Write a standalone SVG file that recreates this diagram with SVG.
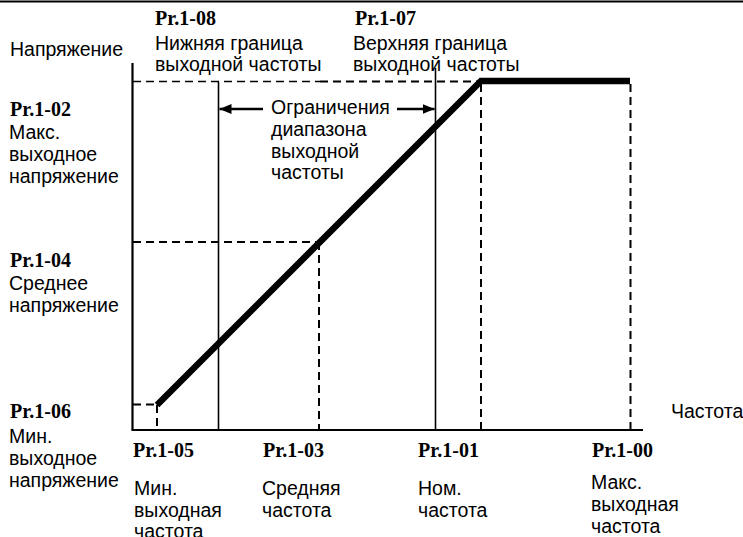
<svg xmlns="http://www.w3.org/2000/svg" width="743" height="537" viewBox="0 0 743 537">
<defs>
<style>
.t{font-family:"Liberation Sans",Arial,sans-serif;font-size:19.5px;fill:#000}
.p{font-family:"Liberation Serif","Times New Roman",serif;font-size:20px;font-weight:bold;fill:#000}
.ax{stroke:#000;stroke-width:2.2;fill:none}
.sl{stroke:#000;stroke-width:1.6;fill:none}
.ds{stroke:#000;stroke-width:2;fill:none;stroke-dasharray:8 5}
.dt{stroke:#000;stroke-width:1.6;fill:none;stroke-dasharray:8 5}
.cv{stroke:#000;stroke-width:6.5;fill:none;stroke-linejoin:miter}
</style>
<marker id="ah" viewBox="0 0 12 10" refX="12" refY="5" markerWidth="12" markerHeight="10" markerUnits="userSpaceOnUse" orient="auto">
<path d="M0,0 L12,5 L0,10 Z" fill="#000"/>
</marker>
</defs>
<rect width="743" height="537" fill="#fff"/>
<line x1="0" y1="1.5" x2="743" y2="1.5" stroke="#000" stroke-width="2"/>
<g id="connectors">
<line class="ax" x1="132.5" y1="63" x2="132.5" y2="430"/>
<line class="ax" x1="131.5" y1="430" x2="643" y2="430"/>
<line class="dt" x1="133" y1="81.5" x2="320" y2="81.5"/>
<line class="ds" x1="320" y1="81.5" x2="481" y2="81.5"/>
<line class="sl" x1="218.5" y1="82" x2="218.5" y2="430"/>
<line class="sl" x1="435.5" y1="68" x2="435.5" y2="430"/>
<line class="ds" x1="481" y1="84" x2="481" y2="430"/>
<line class="ds" x1="630.5" y1="84" x2="630.5" y2="430"/>
<line class="ds" x1="133" y1="242" x2="319" y2="242"/>
<line class="ds" x1="319" y1="242" x2="319" y2="430"/>
<line class="ds" x1="133" y1="404.5" x2="157" y2="404.5"/>
<line class="ds" x1="157" y1="405" x2="157" y2="430"/>
<polyline class="cv" points="157,405 481,81 630,81"/>
<line x1="263" y1="109" x2="219.5" y2="109" stroke="#000" stroke-width="2.5" marker-end="url(#ah)"/>
<line x1="397" y1="109" x2="434.5" y2="109" stroke="#000" stroke-width="2.5" marker-end="url(#ah)"/>
</g>
<g id="yaxis-label"><text class="t" x="10" y="56">Напряжение</text></g>
<g id="xaxis-label"><text class="t" x="671" y="418">Частота</text></g>
<g id="pr108">
<text class="p" x="155" y="25">Pr.1-08</text>
<text class="t" x="155" y="50">Нижняя граница</text>
<text class="t" x="155" y="71">выходной частоты</text>
</g>
<g id="pr107">
<text class="p" x="355" y="25">Pr.1-07</text>
<text class="t" x="353" y="50">Верхняя граница</text>
<text class="t" x="353" y="71">выходной частоты</text>
</g>
<g id="range">
<text class="t" x="271" y="114">Ограничения</text>
<text class="t" x="271" y="136">диапазона</text>
<text class="t" x="271" y="158">выходной</text>
<text class="t" x="271" y="179">частоты</text>
</g>
<g id="pr102">
<text class="p" x="10" y="116">Pr.1-02</text>
<text class="t" x="9" y="139">Макс.</text>
<text class="t" x="9" y="161">выходное</text>
<text class="t" x="9" y="183">напряжение</text>
</g>
<g id="pr104">
<text class="p" x="10" y="267">Pr.1-04</text>
<text class="t" x="9" y="290">Среднее</text>
<text class="t" x="9" y="312">напряжение</text>
</g>
<g id="pr106">
<text class="p" x="10" y="418">Pr.1-06</text>
<text class="t" x="9" y="443">Мин.</text>
<text class="t" x="9" y="465">выходное</text>
<text class="t" x="9" y="487">напряжение</text>
</g>
<g id="pr105">
<text class="p" x="133" y="457">Pr.1-05</text>
<text class="t" x="134" y="495">Мин.</text>
<text class="t" x="134" y="517">выходная</text>
<text class="t" x="134" y="538">частота</text>
</g>
<g id="pr103">
<text class="p" x="263" y="457">Pr.1-03</text>
<text class="t" x="262" y="495">Средняя</text>
<text class="t" x="262" y="517">частота</text>
</g>
<g id="pr101">
<text class="p" x="418" y="457">Pr.1-01</text>
<text class="t" x="418" y="495">Ном.</text>
<text class="t" x="418" y="517">частота</text>
</g>
<g id="pr100">
<text class="p" x="592" y="457">Pr.1-00</text>
<text class="t" x="591" y="488.5">Макс.</text>
<text class="t" x="591" y="510.5">выходная</text>
<text class="t" x="591" y="532.5">частота</text>
</g>
</svg>
